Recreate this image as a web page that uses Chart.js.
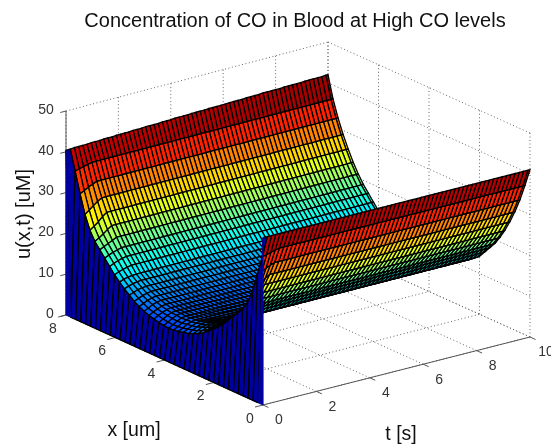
<!DOCTYPE html>
<html><head><meta charset="utf-8">
<style>html,body{margin:0;padding:0;background:#fff}#w{position:relative;width:551px;height:447px}canvas{display:block;filter:blur(0.35px)}</style>
<script src="https://cdn.jsdelivr.net/npm/chart.js@4"></script></head>
<body><div id="w"><canvas id="c" width="551" height="447"></canvas></div>
<script>
const titleText = "Concentration of CO in Blood at High CO levels";
const xLabel = "x [um]", tLabel = "t [s]", zLabel = "u(x,t) [uM]";
const xTicks = [0,2,4,6,8];
const tTicks = [0,2,4,6,8,10];
const zTicks = [0,10,20,30,40,50];
const xGrid = [0,.2,.4,.6,.8,1,1.2,1.4,1.6,1.8,2,2.2,2.4,2.6,2.8,3,3.2,3.4,3.6,3.8,4,4.2,4.4,4.6,4.8,5,5.2,5.4,5.6,5.8,6,6.2,6.4,6.6,6.8,7,7.2,7.4,7.6,7.8,8];
const tGrid = [0,.16,.32,.48,.64,.8,.96,1.12,1.28,1.44,1.6,1.76,1.92,2.08,2.24,2.4,2.56,2.72,2.88,3.04,3.2,3.36,3.52,3.68,3.84,4,4.16,4.32,4.48,4.64,4.8,4.96,5.12,5.28,5.44,5.6,5.76,5.92,6.08,6.24,6.4,6.56,6.72,6.88,7.04,7.2,7.36,7.52,7.68,7.84,8,8.16,8.32,8.48,8.64,8.8,8.96,9.12,9.28,9.44,9.6,9.76,9.92,10];
// u across x at read-off times (x = 0 .. 8)
const uAtStart = [41,0,0,0,0,0,0,0,0,0,0,0,0,0,0,0,0,0,0,0,0,0,0,0,0,0,0,0,0,0,0,0,0,0,0,0,0,0,0,0,40.4];
const uEarly = [41,35.5,30.5,26,22.7,20.5,19,17.5,16,14.5,13.3,12.2,11.2,10.2,9.5,8.9,8.4,8.1,7.8,7.6,7.5,7.6,7.8,8.1,8.4,8.9,9.5,10.2,11.2,12.2,13.3,14.5,16,17.5,19,20.5,22.7,26,30.5,35.5,41];
const uLow = [41,35.8,31,26.8,23.4,21.1,19.5,18,16.5,15,13.7,12.6,11.6,10.7,10,9.4,9,8.7,8.4,8.2,8.1,8.2,8.4,8.7,9,9.4,10,10.7,11.6,12.6,13.7,15,16.5,18,19.5,21.1,23.4,26.8,31,35.8,41];
const uMid = [41,36.1,31.6,27.6,24.2,21.8,20,18.4,16.9,15.3,14,12.9,12,11.1,10.5,10,9.5,9.2,9,8.8,8.7,8.8,9,9.2,9.5,10,10.5,11.1,12,12.9,14,15.3,16.9,18.4,20,21.8,24.2,27.6,31.6,36.1,41];
const uLate = [41,36.4,32.1,28.4,25.2,22.6,20.5,18.7,17.2,15.6,14.1,13.1,12.2,11.4,10.8,10.3,9.9,9.6,9.4,9.3,9.2,9.3,9.4,9.6,9.9,10.3,10.8,11.4,12.2,13.1,14.1,15.6,17.2,18.7,20.5,22.6,25.2,28.4,32.1,36.4,41];
const uEnd = [41,36.6,32.5,29,26,23.3,21,19,17.4,15.8,14.2,13.2,12.3,11.6,11,10.5,10.1,9.8,9.6,9.5,9.4,9.5,9.6,9.8,10.1,10.5,11,11.6,12.3,13.2,14.2,15.8,17.4,19,21,23.3,26,29,32.5,36.6,41];
const uProfiles = [uAtStart,uEarly,uLow,uMid,uLate,uEnd];
const profileOfRow = [0,1,2,3,4,5,5,5,5,5,5,5,5,5,5,5,5,5,5,5,5,5,5,5,5,5,5,5,5,5,5,5,5,5,5,5,5,5,5,5,5,5,5,5,5,5,5,5,5,5,5,5,5,5,5,5,5,5,5,5,5,5,5,5];
// top of the far edge (x = 8) along t
const uFarEdge = [40.4,40.4,40.5,40.5,40.5,40.5,40.6,40.6,40.6,40.7,40.7,40.7,40.8,40.8,40.8,40.8,40.9,40.9,40.9,41,41,41,41,41.1,41.1,41.1,41.2,41.2,41.2,41.2,41.3,41.3,41.3,41.3,41.4,41.4,41.4,41.4,41.4,41.5,41.5,41.5,41.5,41.6,41.6,41.6,41.6,41.7,41.7,41.7,41.7,41.7,41.8,41.8,41.8,41.8,41.8,41.9,41.9,41.9,41.9,41.9,42,42];
const cMax = 43.5;

// view of the axes box on the page
const origin = [263,405], xVec = [-197,-90], tVec = [267,-68], zUnit = 4.08, skew = [-5,-1];
function project(x,t,z){
  const a=x/8,b=t/10;
  return {x: origin[0]+xVec[0]*a+tVec[0]*b+skew[0]*a*b, y: origin[1]+xVec[1]*a+tVec[1]*b+skew[1]*a*b-zUnit*z};
}
function jet(v){
  v=Math.max(0,Math.min(1,v));
  const c=(a)=>Math.round(255*Math.max(0,Math.min(1,1.5-Math.abs(4*v-a))));
  return `rgb(${c(3)},${c(2)},${c(1)})`;
}
const datasets=[];
const wallBlue="rgb(0,0,160)";
function line(pts,color,width,dash){
  datasets.push({data:pts,borderColor:color,borderWidth:width,borderDash:dash||[],fill:false,pointRadius:0,showLine:true,tension:0});
}
function rowOf(j){
  const r=uProfiles[profileOfRow[j]].slice();
  r[r.length-1]=uFarEdge[j];
  return r;
}
// curtains at both ends of the first row
const last=xGrid.length-1;
[[0,1],[last,last-1]].forEach(([e,n])=>{
  const top=uAtStart[e];
  const p=[project(xGrid[e],0,top),project(xGrid[e],0,0),project(xGrid[n],0,0),project(xGrid[e],0,top)];
  datasets.push({data:p,backgroundColor:wallBlue,borderColor:wallBlue,borderWidth:0.5,fill:"shape",pointRadius:0,showLine:true,tension:0});
});
// surface, nearest cell first (dataset 0 is painted last)
for(let j=0;j<tGrid.length-1;j++){
  const a=rowOf(j), b=rowOf(j+1);
  for(let i=0;i<xGrid.length-1;i++){
    const z=[a[i],a[i+1],b[i+1],b[i]];
    const col = j===0 ? wallBlue : jet(Math.max(...z)/cMax);
    const p=[project(xGrid[i],tGrid[j],z[0]),project(xGrid[i+1],tGrid[j],z[1]),project(xGrid[i+1],tGrid[j+1],z[2]),project(xGrid[i],tGrid[j+1],z[3])];
    p.push(p[0]);
    datasets.push({data:p,backgroundColor:col,borderColor:"#000",borderWidth:1.3,fill:"shape",pointRadius:0,showLine:true,tension:0});
  }
}
const zTop=zTicks[zTicks.length-1], xEnd=8, tEnd=10;
const solid="#555", dot="#666", dash=[1,2.5];
// axes
line([project(xEnd,0,0),project(xEnd,0,zTop)],solid,1);
line([project(0,0,0),project(xEnd,0,0)],solid,1);
line([project(0,0,0),project(0,tEnd,0)],solid,1);
zTicks.forEach(z=>line([project(xEnd,0,z),project(xEnd,-.22,z)],solid,1));
xTicks.forEach(x=>line([project(x,0,0),project(x,-.3,0)],solid,1));
tTicks.forEach(t=>line([project(0,t,0),project(-.22,t,0)],solid,1));
// grid on back walls and floor
xTicks.forEach(x=>{
  line([project(x,0,0),project(x,tEnd,0)],dot,1,dash);
  line([project(x,tEnd,0),project(x,tEnd,zTop)],dot,1,dash);
});
tTicks.forEach(t=>{
  line([project(0,t,0),project(xEnd,t,0)],dot,1,dash);
  line([project(xEnd,t,0),project(xEnd,t,zTop)],dot,1,dash);
});
zTicks.forEach(z=>{
  line([project(xEnd,0,z),project(xEnd,tEnd,z)],dot,1,dash);
  line([project(xEnd,tEnd,z),project(0,tEnd,z)],dot,1,dash);
});

const textPlugin={id:"axisText",afterDraw(ch){
  const g=ch.ctx; g.save();
  g.fillStyle="#333"; g.textAlign="center"; g.textBaseline="middle";
  g.font='14px "Liberation Sans"';
  zTicks.forEach(z=>{const p=project(xEnd,0,z); g.fillText(String(z),p.x-(z===0?16:20),p.y-1);});
  xTicks.forEach(x=>{const p=project(x,0,0); g.fillText(String(x),p.x-13,p.y+14);});
  tTicks.forEach(t=>{const p=project(0,t,0); g.fillText(String(t),p.x+16,p.y+15.5);});
  g.fillStyle="#111"; g.font='19.5px "Liberation Sans"';
  g.fillText(xLabel,134,431); g.fillText(tLabel,401,435);
  g.font='20px "Liberation Sans"';
  g.translate(24,214); g.rotate(-Math.PI/2); g.fillText(zLabel,0,0);
  g.restore();
}};
new Chart(document.getElementById("c"),{
  type:"scatter",
  data:{datasets},
  plugins:[textPlugin],
  options:{
    responsive:false,animation:false,events:[],
    layout:{padding:{left:39,right:0,top:0,bottom:0}},
    clip:false,
    plugins:{legend:{display:false},tooltip:{enabled:false},
      title:{display:true,text:titleText,color:"#111",font:{family:"Liberation Sans",size:20,weight:"normal",lineHeight:1.2},padding:{top:9,bottom:0}}},
    scales:{
      x:{type:"linear",display:false,min:39,max:551},
      y:{type:"linear",display:false,min:33,max:447,reverse:true}
    }
  }
});
</script></body></html>
